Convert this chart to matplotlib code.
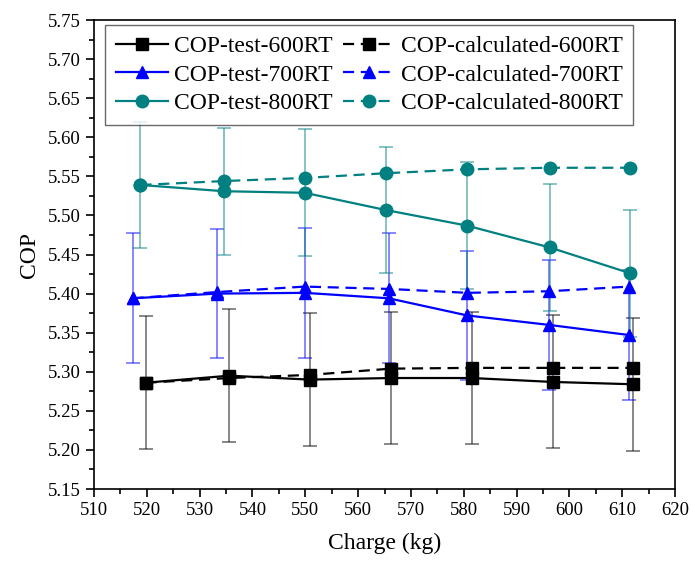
import matplotlib.pyplot as plt
from matplotlib.ticker import MultipleLocator

plt.rcParams['font.family'] = ['Liberation Serif', 'DejaVu Serif']

# charge (kg) for each series
x_600 = [519.8, 535.6, 550.8, 566.2, 581.5, 596.8, 612.1]
x_700 = [517.3, 533.3, 549.9, 565.8, 580.7, 596.1, 611.3]
x_800 = [518.8, 534.6, 549.9, 565.2, 580.6, 596.3, 611.5]

test_600 = [5.286, 5.295, 5.290, 5.292, 5.292, 5.287, 5.284]
calc_600 = [5.286, 5.292, 5.296, 5.304, 5.305, 5.305, 5.305]
err_600 = [0.085, 0.085, 0.085, 0.085, 0.085, 0.085, 0.085]

test_700 = [5.394, 5.400, 5.401, 5.394, 5.372, 5.360, 5.347]
calc_700 = [5.394, 5.402, 5.409, 5.406, 5.401, 5.403, 5.409]
err_700 = [0.083, 0.083, 0.083, 0.083, 0.083, 0.083, 0.083]

test_800 = [5.539, 5.531, 5.529, 5.507, 5.487, 5.459, 5.426]
calc_800 = [5.539, 5.544, 5.548, 5.554, 5.559, 5.561, 5.561]
err_800 = [0.081, 0.081, 0.081, 0.081, 0.081, 0.081, 0.081]

series = [
    ('600RT', x_600, test_600, calc_600, err_600, 'black', 's'),
    ('700RT', x_700, test_700, calc_700, err_700, '#0000ff', '^'),
    ('800RT', x_800, test_800, calc_800, err_800, '#008080', 'o'),
]

fig = plt.figure(figsize=(6.91, 5.63), dpi=100)
ax = fig.add_axes([0.136, 0.1314, 0.841, 0.833])

test_handles = []
calc_handles = []
for name, x, test, calc, err, col, mk in series:
    ax.errorbar(x, test, yerr=err, fmt='none', ecolor=col, alpha=0.55,
                elinewidth=1.2, capsize=5, capthick=1.2, zorder=2)
    h1, = ax.plot(x, test, '-', color=col, marker=mk, markersize=9,
                  linewidth=1.6, label='COP-test-' + name, zorder=3)
    h2, = ax.plot(x, calc, '--', color=col, marker=mk, markersize=9,
                  linewidth=1.6, dashes=(5, 3), label='COP-calculated-' + name,
                  zorder=3)
    test_handles.append(h1)
    calc_handles.append(h2)

ax.set_xlim(510, 620)
ax.set_ylim(5.15, 5.75)
ax.xaxis.set_major_locator(MultipleLocator(10))
ax.xaxis.set_minor_locator(MultipleLocator(5))
ax.yaxis.set_major_locator(MultipleLocator(0.05))
ax.yaxis.set_minor_locator(MultipleLocator(0.025))
ax.yaxis.set_major_formatter(plt.FormatStrFormatter('%.2f'))
ax.tick_params(which='major', direction='out', length=6, width=1.2,
               labelsize=13.5)
ax.tick_params(which='minor', direction='out', length=3.5, width=1.2)
for s in ax.spines.values():
    s.set_linewidth(1.2)

ax.set_xlabel('Charge (kg)', fontsize=17, labelpad=10)
ax.set_ylabel('COP', fontsize=17, labelpad=6)

leg = ax.legend(test_handles + calc_handles,
                [h.get_label() for h in test_handles + calc_handles],
                ncol=2, loc='upper left', bbox_to_anchor=(0.011, 1.0),
                fontsize=17, frameon=True, fancybox=False, edgecolor='#444444',
                handlelength=2.2, handletextpad=0.25, columnspacing=0.45,
                labelspacing=0.3, borderpad=0.45, borderaxespad=0.2)
leg.get_frame().set_linewidth(1.0)

fig.savefig('out.png', dpi=100)
